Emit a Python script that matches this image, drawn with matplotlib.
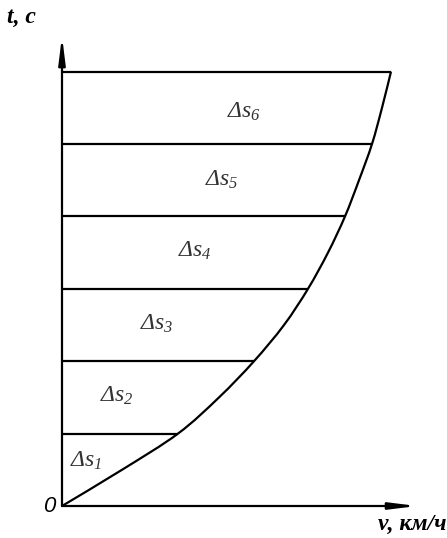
import matplotlib
matplotlib.use("Agg")
import matplotlib.pyplot as plt
from matplotlib.path import Path
from matplotlib.patches import PathPatch

plt.rcParams['mathtext.fontset'] = 'custom'
plt.rcParams['mathtext.it'] = 'Liberation Serif:italic'
plt.rcParams['mathtext.rm'] = 'Liberation Serif:italic'

# data
t_curve = [0, 0.5, 1, 1.5, 2, 2.5, 3, 3.5, 4, 4.5, 5, 5.5, 6]
v_curve = [0, 6.0, 11.6, 15.7, 19.2, 22.2, 24.6, 26.6, 28.3, 29.7, 31.0, 32.0, 32.9]
t_levels = [1, 2, 3, 4, 5, 6]
labels = [r'$\Delta s_{1}$', r'$\Delta s_{2}$', r'$\Delta s_{3}$',
          r'$\Delta s_{4}$', r'$\Delta s_{5}$', r'$\Delta s_{6}$']
label_v = [0.8, 3.8, 7.8, 11.6, 14.3, 16.5]
label_t = [0.54, 1.44, 2.43, 3.44, 4.43, 5.36]

W, H = 447, 538
fig = plt.figure(figsize=(W / 100, H / 100), dpi=100)
ox, oy = 62, 506
ax = fig.add_axes([ox / W, (H - oy) / H, (W - ox) / W, oy / H])
ax.set_xlim(0, (W - ox) / 10)
ax.set_ylim(0, oy / 72.4)
ax.axis('off')

lw = 1.6

# smooth curve through the read points (Catmull-Rom -> cubic Bezier)
pts = list(zip(v_curve, t_curve))
verts = [pts[0]]
codes = [Path.MOVETO]
n = len(pts)
for i in range(n - 1):
    p0 = pts[i - 1] if i > 0 else pts[i]
    p1 = pts[i]
    p2 = pts[i + 1]
    p3 = pts[i + 2] if i + 2 < n else pts[i + 1]
    c1 = (p1[0] + (p2[0] - p0[0]) / 6, p1[1] + (p2[1] - p0[1]) / 6)
    c2 = (p2[0] - (p3[0] - p1[0]) / 6, p2[1] - (p3[1] - p1[1]) / 6)
    verts += [c1, c2, p2]
    codes += [Path.CURVE4] * 3
ax.add_patch(PathPatch(Path(verts, codes), facecolor='none', edgecolor='black', lw=lw, clip_on=False))

for tl in t_levels:
    vend = v_curve[t_curve.index(tl)]
    ax.plot([0, vend], [tl, tl], color='black', lw=lw, clip_on=False, solid_capstyle='butt')

# axes with arrows
astyle = '-|>,head_length=1.6,head_width=0.2'
ax.annotate('', xy=(35.5, 0), xytext=(0, 0),
            arrowprops=dict(arrowstyle=astyle, color='black', lw=lw,
                            shrinkA=0, shrinkB=0, mutation_scale=10))
ax.annotate('', xy=(0, 6.49), xytext=(0, 0),
            arrowprops=dict(arrowstyle=astyle, color='black', lw=lw,
                            shrinkA=0, shrinkB=0, mutation_scale=10))

for lab, lv, lt in zip(labels, label_v, label_t):
    ax.text(lv, lt, lab, fontsize=17, ha='left', va='baseline', color='#333333')

fig.text(7 / W, 1 - 17 / H, 't, c', fontsize=17, fontweight='bold', fontstyle='italic',
         family='Liberation Serif', ha='left', va='center')
fig.text(49 / W, 1 - 507 / H, '0', fontsize=16, fontstyle='italic',
         family='Liberation Sans', ha='center', va='center')
fig.text(446 / W, 1 - 524 / H, 'v, км/ч', fontsize=17, fontweight='bold', fontstyle='italic',
         family='Liberation Serif', ha='right', va='center')

fig.savefig('out.png', dpi=100)
